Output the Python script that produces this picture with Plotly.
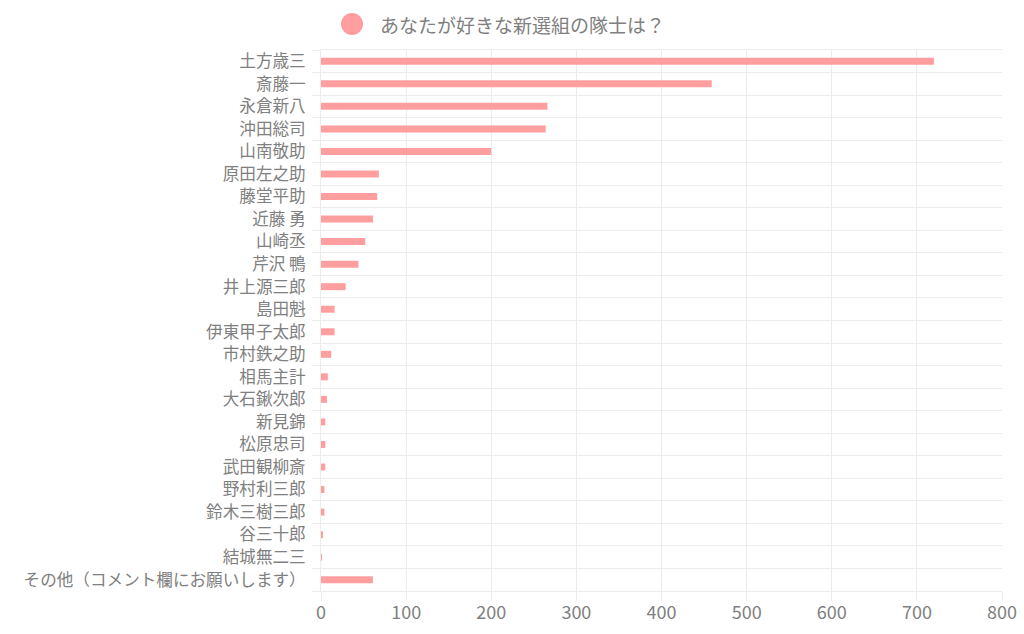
import plotly.graph_objects as go

series_name = "あなたが好きな新選組の隊士は？"
names = ["土方歳三", "斎藤一", "永倉新八", "沖田総司", "山南敬助", "原田左之助", "藤堂平助",
         "近藤 勇", "山崎丞", "芹沢 鴨", "井上源三郎", "島田魁", "伊東甲子太郎", "市村鉄之助",
         "相馬主計", "大石鍬次郎", "新見錦", "松原忠司", "武田観柳斎", "野村利三郎",
         "鈴木三樹三郎", "谷三十郎", "結城無二三", "その他（コメント欄にお願いします）"]
values = [720, 459, 266, 264, 200, 68, 66, 61, 52, 44, 29, 16, 16, 12, 8, 7, 5, 5, 5, 4, 4, 2, 1, 61]
x_ticks = [0, 100, 200, 300, 400, 500, 600, 700, 800]

BAR = "#ff9e9e"
GRID = "#ececec"
TXT = "#808080"
FONT = "Noto Sans CJK JP"

pos = list(range(len(names)))

fig = go.Figure()
fig.add_trace(go.Bar(
    x=values, y=pos, orientation="h", width=0.31,
    marker=dict(color=BAR, line=dict(width=0)),
    name=series_name, showlegend=False, hoverinfo="x+text", text=names, textposition="none",
))

fig.update_layout(
    width=1024, height=634,
    margin=dict(l=321, r=22, t=50, b=43, autoexpand=False),
    paper_bgcolor="white", plot_bgcolor="white",
    font=dict(family=FONT, color=TXT),
    xaxis=dict(
        range=[0, 800], tickvals=x_ticks, showgrid=True, gridcolor=GRID, gridwidth=1,
        zeroline=False, ticks="outside", ticklen=9, tickcolor=GRID,
        tickfont=dict(size=18, color=TXT, family=FONT),
        ticklabelstandoff=-4, automargin=False,
        showline=True, linecolor=GRID, mirror=True,
    ),
    yaxis=dict(
        range=[len(names) - 0.5, -0.5], tickvals=pos, ticktext=names,
        showgrid=False, zeroline=False, ticks="",
        tickfont=dict(size=16.6, color=TXT, family=FONT),
        ticklabelstandoff=11, automargin=False,
        minor=dict(tick0=0.5, dtick=1, showgrid=True, gridcolor=GRID, gridwidth=1,
                   ticks="outside", ticklen=8, tickcolor=GRID),
        showline=True, linecolor=GRID,
    ),
    shapes=[dict(type="circle", xref="paper", yref="paper", xsizemode="pixel", ysizemode="pixel",
                 xanchor=(352 - 321) / (1002 - 321), yanchor=1 + (50 - 24) / 541,
                 x0=-11, x1=11, y0=-11, y1=11,
                 fillcolor=BAR, line=dict(width=0))],
    annotations=[dict(text=series_name, xref="paper", yref="paper",
                      x=(378 - 321) / (1002 - 321), y=1 + (50 - 24) / 541,
                      xanchor="left", yanchor="middle", showarrow=False,
                      font=dict(size=19, color=TXT, family=FONT))],
)

fig.write_html("out.html")
